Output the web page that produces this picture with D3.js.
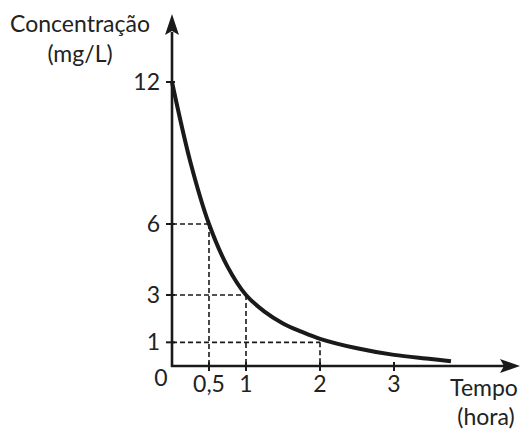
<!DOCTYPE html>
<html>
<head>
<meta charset="utf-8">
<script src="https://cdn.jsdelivr.net/npm/d3@7"></script>
<style>
  html, body { margin: 0; padding: 0; background: #fff; }
  svg text { font-family: Lato, "Open Sans", sans-serif; fill: #222; }
</style>
</head>
<body>
<svg id="chart" width="523" height="432"></svg>
<script>
// Decay curve: concentration (mg/L) over time (hours)
const curveTime  = [0, 0.25, 0.5, 0.75, 1, 1.25, 1.5, 1.75, 2, 2.5, 3, 3.5, 3.77];
const curveConc  = [12, 8.6, 6, 4.2, 3, 2.3, 1.8, 1.45, 1.15, 0.75, 0.47, 0.3, 0.2];

// Reference readings marked with dashed guides
const guideTime  = [0.5, 1, 2];
const guideConc  = [6, 3, 1];

// Tick labels
const xTicks      = [0.5, 1, 2, 3];
const xTickLabels = ["0,5", "1", "2", "3"];
const yTicks      = [12, 6, 3, 1];
const yTickLabels = ["12", "6", "3", "1"];

const svg = d3.select("#chart");
const ink = "#1a1a1a";

const x = d3.scaleLinear().domain([0, 1]).range([172, 246]);
const y = d3.scaleLinear().domain([0, 12]).range([366, 82]);

// Dashed guides from each axis to the curve readings
const guides = svg.append("g")
  .attr("stroke", ink).attr("stroke-width", 1.6)
  .attr("stroke-dasharray", "5,3").attr("fill", "none");
guideTime.forEach((t, i) => {
  guides.append("line")
    .attr("x1", x(0)).attr("x2", x(t))
    .attr("y1", y(guideConc[i])).attr("y2", y(guideConc[i]));
  guides.append("line")
    .attr("x1", x(t)).attr("x2", x(t))
    .attr("y1", y(guideConc[i])).attr("y2", y(0));
});

// Axes with arrowheads
const axes = svg.append("g").attr("stroke", ink).attr("stroke-width", 2.6);
axes.append("line").attr("x1", x(0)).attr("x2", x(0)).attr("y1", y(0) + 1).attr("y2", 32);
axes.append("line").attr("x1", x(0) - 1).attr("x2", 506).attr("y1", y(0)).attr("y2", y(0));
svg.append("path")
  .attr("d", `M${x(0)},14 L${x(0) - 7},35 L${x(0)},31 L${x(0) + 7},35 Z`)
  .attr("fill", ink);
svg.append("path")
  .attr("d", `M520,${y(0)} L500,${y(0) - 7} L504,${y(0)} L500,${y(0) + 7} Z`)
  .attr("fill", ink);

// Tick marks
const ticks = svg.append("g").attr("stroke", ink).attr("stroke-width", 2);
yTicks.forEach(v => {
  ticks.append("line").attr("x1", x(0) - 6).attr("x2", x(0) + 3)
    .attr("y1", y(v)).attr("y2", y(v));
});
xTicks.forEach(v => {
  ticks.append("line").attr("x1", x(v)).attr("x2", x(v))
    .attr("y1", y(0) - 4).attr("y2", y(0) + 5);
});

// Decay curve
const line = d3.line()
  .x((d, i) => x(curveTime[i]))
  .y(d => y(d))
  .curve(d3.curveCatmullRom.alpha(0.5));
svg.append("path")
  .datum(curveConc)
  .attr("d", line)
  .attr("fill", "none")
  .attr("stroke", ink)
  .attr("stroke-width", 4)
  .attr("stroke-linecap", "butt");

// Tick labels
const fs = 23;
yTicks.forEach((v, i) => {
  svg.append("text").attr("x", x(0) - 12).attr("y", y(v) + 8)
    .attr("text-anchor", "end").attr("font-size", fs).text(yTickLabels[i]);
});
xTicks.forEach((v, i) => {
  svg.append("text").attr("x", x(v)).attr("y", y(0) + 26)
    .attr("text-anchor", "middle").attr("font-size", fs).text(xTickLabels[i]);
});
svg.append("text").attr("x", x(0) - 11).attr("y", y(0) + 20)
  .attr("text-anchor", "middle").attr("font-size", fs).text("0");

// Axis titles
svg.append("text").attr("x", 80).attr("y", 32)
  .attr("text-anchor", "middle").attr("font-size", fs).text("Concentração");
svg.append("text").attr("x", 80).attr("y", 62)
  .attr("text-anchor", "middle").attr("font-size", fs).text("(mg/L)");
svg.append("text").attr("x", 484).attr("y", 396)
  .attr("text-anchor", "middle").attr("font-size", fs).text("Tempo");
svg.append("text").attr("x", 486).attr("y", 425)
  .attr("text-anchor", "middle").attr("font-size", fs).text("(hora)");
</script>
</body>
</html>
